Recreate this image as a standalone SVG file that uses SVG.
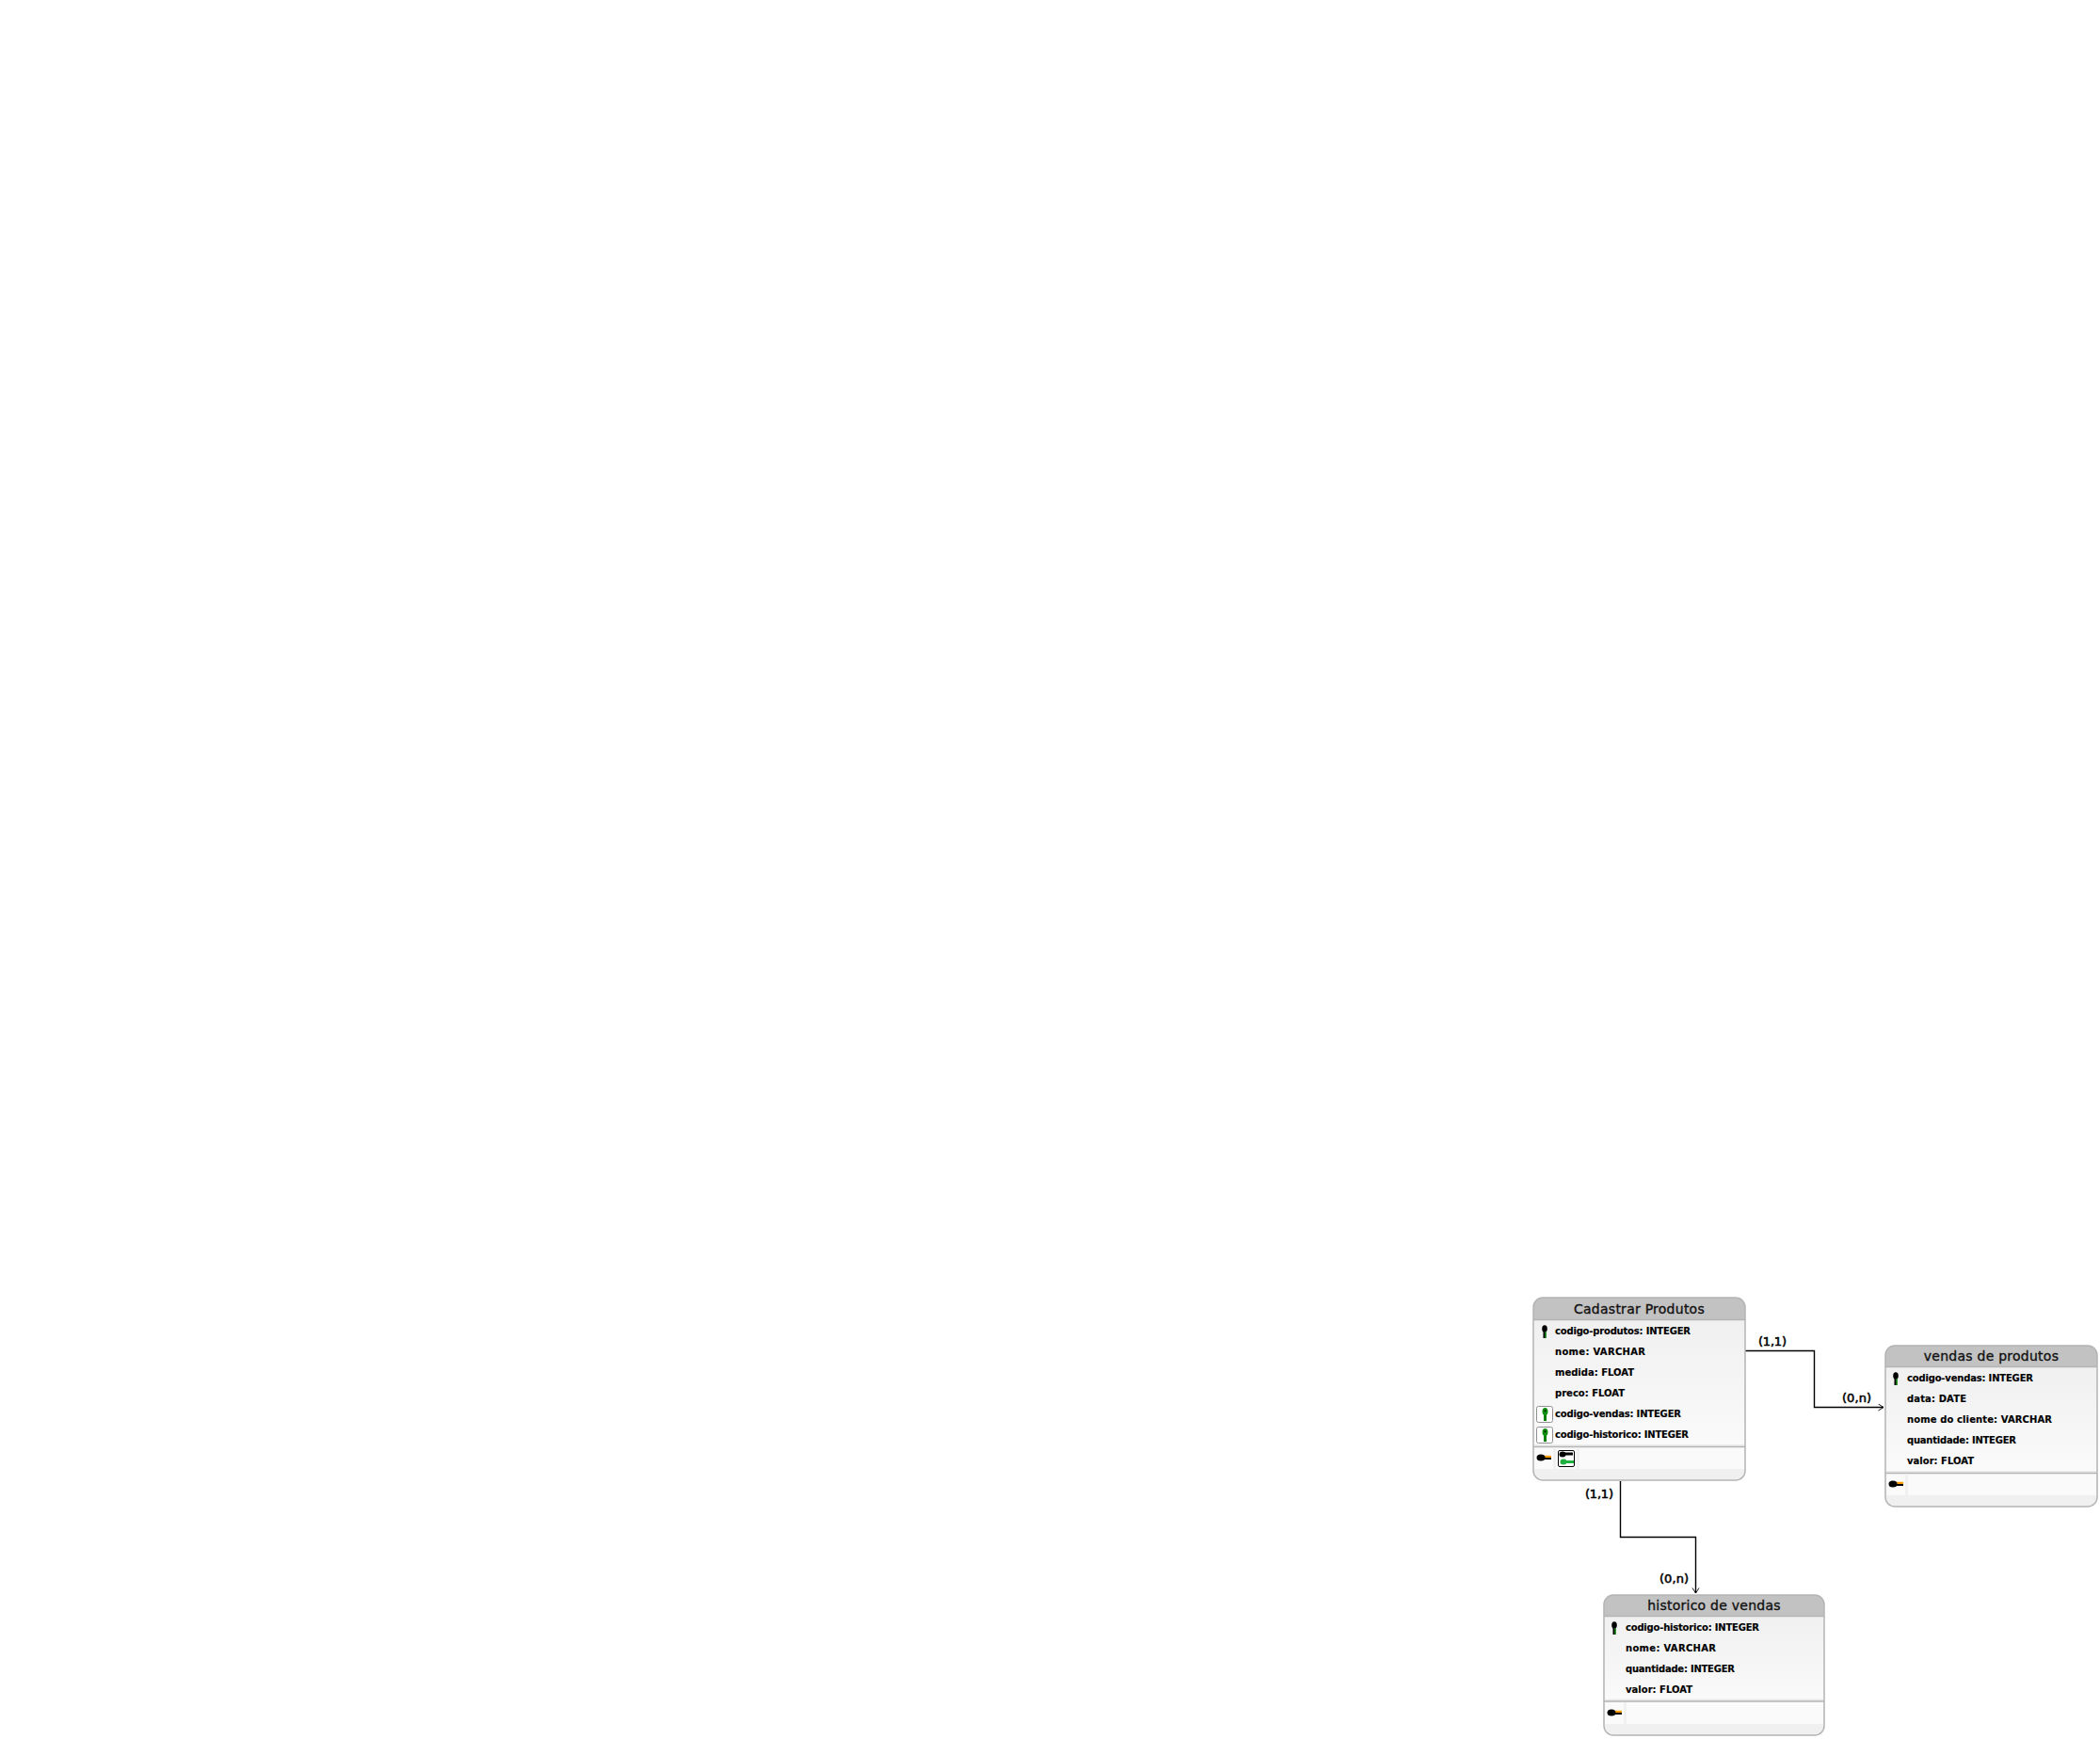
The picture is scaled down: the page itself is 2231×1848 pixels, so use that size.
<svg xmlns="http://www.w3.org/2000/svg" width="2231" height="1848" viewBox="0 0 2231 1848">
<style>
.foot{fill:#f0f0f0}
.box{fill:url(#body)}
.outline{fill:none;stroke:#b4b4b4;stroke-width:1.5}
.head{fill:#c2c2c2}
.rule{stroke:#b4b4b4;stroke-width:1.5;fill:none}
.rule2{stroke:#e6e6e6;stroke-width:1.5;fill:none}
.t{font-family:"DejaVu Sans",sans-serif;font-size:14px;fill:#111;stroke:#111;stroke-width:.35;letter-spacing:.25px;text-anchor:middle}
.r{font-family:"DejaVu Sans",sans-serif;font-weight:bold;font-size:10px;fill:#000;stroke:#000;stroke-width:.15}
.l{font-family:"DejaVu Sans",sans-serif;font-size:13px;fill:#000;stroke:#000;stroke-width:.55}
.c{fill:none;stroke:#000;stroke-width:1.4}
.ck{fill:#fff;stroke:#909090;stroke-width:1}
</style>
<defs>
<linearGradient id="body" x1="0" y1="0" x2="0" y2="1"><stop offset="0" stop-color="#f0f0f0"/><stop offset="1" stop-color="#fafafa"/></linearGradient>
<marker id="arr" markerUnits="userSpaceOnUse" markerWidth="10" markerHeight="10" refX="7" refY="4" orient="auto"><path d="M1.5 0.5L7 4L1.5 7.5" fill="none" stroke="#000" stroke-width=".9"/></marker>
<g id="vk"><rect x="-1.5" y="3" width="3" height="7" fill="#000"/><ellipse cx="0" cy="0" rx="2.8" ry="3.8" fill="#000"/><rect x="0.4" y="3" width="1.4" height="7" fill="#20a020"/></g>
<g id="gk"><rect x="-1.5" y="3" width="3" height="7" fill="#008000"/><ellipse cx="0" cy="0" rx="3" ry="4" fill="#109010"/><rect x="-0.8" y="-1.5" width="1.6" height="1.6" fill="#000"/></g>
<g id="hk"><rect x="0" y="-2.2" width="11" height="2.2" fill="#ff9c00"/><rect x="0" y="0" width="11" height="2" fill="#000"/><ellipse cx="0" cy="0" rx="4.5" ry="3.5" fill="#000"/></g>
</defs>
<rect width="2231" height="1848" fill="#fff"/>
<g id="connectors">
<path class="c" d="M1854 1435.5H1927.5V1495.5H2001" marker-end="url(#arr)"/>
<path class="c" d="M1721.5 1574V1633.5H1801.5V1693" marker-end="url(#arr)"/>
<text class="l" x="1868" y="1430" textLength="30">(1,1)</text>
<text class="l" x="1957" y="1490" textLength="31">(0,n)</text>
<text class="l" x="1684" y="1592" textLength="30">(1,1)</text>
<text class="l" x="1763" y="1682" textLength="31">(0,n)</text>
</g>
<g id="cadastrar-produtos">
<rect class="foot" x="1629" y="1380" width="225" height="193" rx="10"/>
<rect class="box" x="1629" y="1402" width="225" height="135"/>
<path class="head" d="M1629 1402V1389a10 10 0 0 1 10-10H1844a10 10 0 0 1 10 10V1402Z"/>
<path class="rule" d="M1629 1402.5H1854"/>
<rect x="1630" y="1538" width="223" height="23" fill="#fafafa"/>
<path class="rule2" d="M1630 1536H1853"/><path class="rule" d="M1629 1537.5H1854"/>
<path d="M1651.5 1538V1561M1676.5 1538V1561" stroke="#efefef" stroke-width="2.5"/>
<rect class="outline" x="1629" y="1379" width="225" height="194" rx="10"/>
<text class="t" x="1741.5" y="1396">Cadastrar Produtos</text>
<use href="#vk" x="1641" y="1412"/>
<text class="r" x="1652" y="1418" textLength="144">codigo-produtos: INTEGER</text>
<text class="r" x="1652" y="1440" textLength="96">nome: VARCHAR</text>
<text class="r" x="1652" y="1462" textLength="84">medida: FLOAT</text>
<text class="r" x="1652" y="1484" textLength="74">preco: FLOAT</text>
<rect class="ck" x="1632.5" y="1494.5" width="17" height="17" rx="2"/><use href="#gk" x="1641.5" y="1500"/>
<text class="r" x="1652" y="1506" textLength="134">codigo-vendas: INTEGER</text>
<rect class="ck" x="1632.5" y="1516.5" width="17" height="17" rx="2"/><use href="#gk" x="1641.5" y="1522"/>
<text class="r" x="1652" y="1528" textLength="142">codigo-historico: INTEGER</text>
<use href="#hk" x="1637" y="1549"/>
<rect x="1655.5" y="1541.5" width="17" height="17" rx="1.5" fill="#fff" stroke="#000" stroke-width="1"/>
<path d="M1660 1543.5h11v3h-11z" fill="#000"/><ellipse cx="1660" cy="1545.5" rx="3.5" ry="3" fill="#000"/>
<path d="M1662 1552h10v3h-10z" fill="#20b040"/><ellipse cx="1661" cy="1553.5" rx="3.5" ry="3" fill="#20b040"/>
</g>
<g id="vendas-de-produtos">
<rect class="foot" x="2003" y="1430" width="225" height="171" rx="10"/>
<rect class="box" x="2003" y="1452" width="225" height="113"/>
<path class="head" d="M2003 1452V1440a10 10 0 0 1 10-10H2218a10 10 0 0 1 10 10V1452Z"/>
<path class="rule" d="M2003 1452.5H2228"/>
<rect x="2004" y="1566" width="223" height="23" fill="#fafafa"/>
<path class="rule2" d="M2004 1564H2227"/><path class="rule" d="M2003 1565.5H2228"/>
<path d="M2025.5 1566V1589" stroke="#efefef" stroke-width="2.5"/>
<rect class="outline" x="2003" y="1430" width="225" height="171" rx="10"/>
<text class="t" x="2115.5" y="1446">vendas de produtos</text>
<use href="#vk" x="2014" y="1462"/>
<text class="r" x="2026" y="1468" textLength="134">codigo-vendas: INTEGER</text>
<text class="r" x="2026" y="1490" textLength="63">data: DATE</text>
<text class="r" x="2026" y="1512" textLength="154">nome do cliente: VARCHAR</text>
<text class="r" x="2026" y="1534" textLength="116">quantidade: INTEGER</text>
<text class="r" x="2026" y="1556" textLength="71">valor: FLOAT</text>
<use href="#hk" x="2011" y="1577"/>
</g>
<g id="historico-de-vendas">
<rect class="foot" x="1704" y="1695" width="234" height="149" rx="10"/>
<rect class="box" x="1704" y="1717" width="234" height="91"/>
<path class="head" d="M1704 1717V1705a10 10 0 0 1 10-10H1928a10 10 0 0 1 10 10V1717Z"/>
<path class="rule" d="M1704 1717.5H1938"/>
<rect x="1705" y="1809" width="232" height="23" fill="#fafafa"/>
<path class="rule2" d="M1705 1806.5H1937"/><path class="rule" d="M1704 1808H1938"/>
<path d="M1726.5 1809V1832" stroke="#efefef" stroke-width="2.5"/>
<rect class="outline" x="1704" y="1695" width="234" height="149" rx="10"/>
<text class="t" x="1821" y="1711">historico de vendas</text>
<use href="#vk" x="1715" y="1727"/>
<text class="r" x="1727" y="1733" textLength="142">codigo-historico: INTEGER</text>
<text class="r" x="1727" y="1755" textLength="96">nome: VARCHAR</text>
<text class="r" x="1727" y="1777" textLength="116">quantidade: INTEGER</text>
<text class="r" x="1727" y="1799" textLength="71">valor: FLOAT</text>
<use href="#hk" x="1712" y="1820"/>
</g>
</svg>
